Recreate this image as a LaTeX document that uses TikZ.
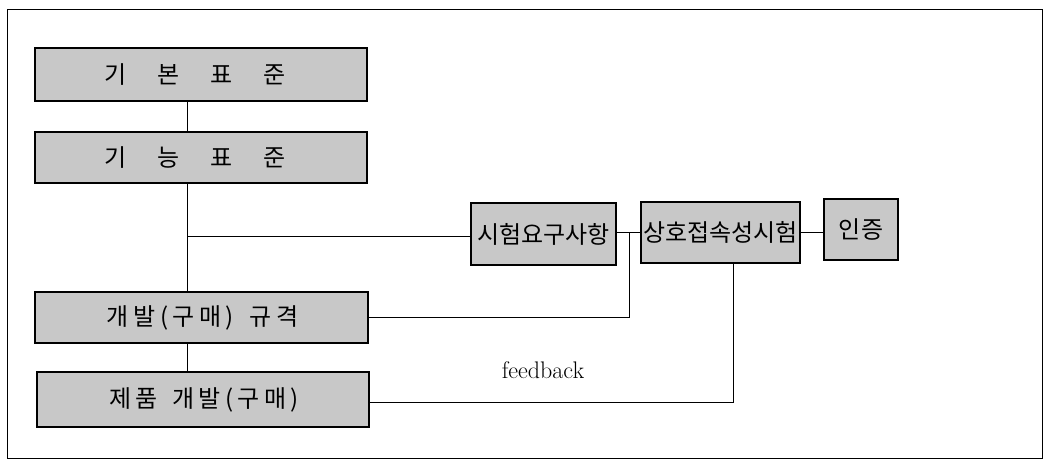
\documentclass[tikz,border=0pt]{standalone}
\usepackage{fontspec}
\newfontfamily\kr{Noto Sans CJK KR}
\definecolor{boxgray}{RGB}{200,200,200}
\newcommand{\gsp}{\hspace{4.5pt}}
\begin{document}
\begin{tikzpicture}[x=1pt,y=-1pt,
  frame/.style={draw=black,line width=1pt},
  gbox/.style={draw=black,line width=1.2pt,fill=boxgray,inner sep=0pt,font=\kr\fontsize{24}{28}\selectfont},
  conn/.style={draw=black,line width=0.9pt}]
\useasboundingbox (0,0) rectangle (1045,464);
\draw[frame] (7,9) rectangle (1042,458);
\node[gbox,minimum width=332pt,minimum height=53pt] (b1) at (201,74.5) {\hspace{-12pt}기\hspace{31pt}본\hspace{31pt}표\hspace{31pt}준};
\node[gbox,minimum width=332pt,minimum height=51pt] (b2) at (201,157.5) {\hspace{-12pt}기\hspace{31pt}능\hspace{31pt}표\hspace{31pt}준};
\node[gbox,minimum width=333pt,minimum height=51pt] (b3) at (201.5,317.5) {\hspace{2.5pt}개\gsp 발\gsp(\gsp 구\gsp 매\gsp)\hspace{16pt}규\gsp 격};
\node[gbox,minimum width=332pt,minimum height=55pt] (b4) at (203,399.5) {\hspace{2.5pt}제\gsp 품\hspace{14pt}개\gsp 발\gsp(\gsp 구\gsp 매\gsp)};
\node[gbox,minimum width=145pt,minimum height=62pt] (r1) at (543.5,234) {시험요구사항};
\node[gbox,minimum width=159pt,minimum height=61pt] (r2) at (720.5,232.5) {상호접속성시험};
\node[gbox,minimum width=74pt,minimum height=61pt] (r3) at (861,229.5) {인증};
\node[font=\fontsize{24}{28}\selectfont] (fb) at (543,370) {feedback};
\coordinate (vx) at (187,0);
\coordinate (br) at (187,236);
\coordinate (jn) at (629,232);
\coordinate (fx) at (733,0);
\draw[conn] (b1.south -| vx) -- (b2.north -| vx);
\draw[conn] (b2.south -| vx) -- (b3.north -| vx);
\draw[conn] (b3.south -| vx) -- (b4.north -| vx);
\draw[conn] (br) -- (r1.west |- br);
\draw[conn] (r1.east |- jn) -- (r2.west |- jn);
\draw[conn] (jn) |- (b3.east);
\draw[conn] (r2.east |- jn) -- (r3.west |- jn);
\draw[conn] (r2.south -| fx) |- ([yshift=-3pt]b4.east);
\end{tikzpicture}
\end{document}
